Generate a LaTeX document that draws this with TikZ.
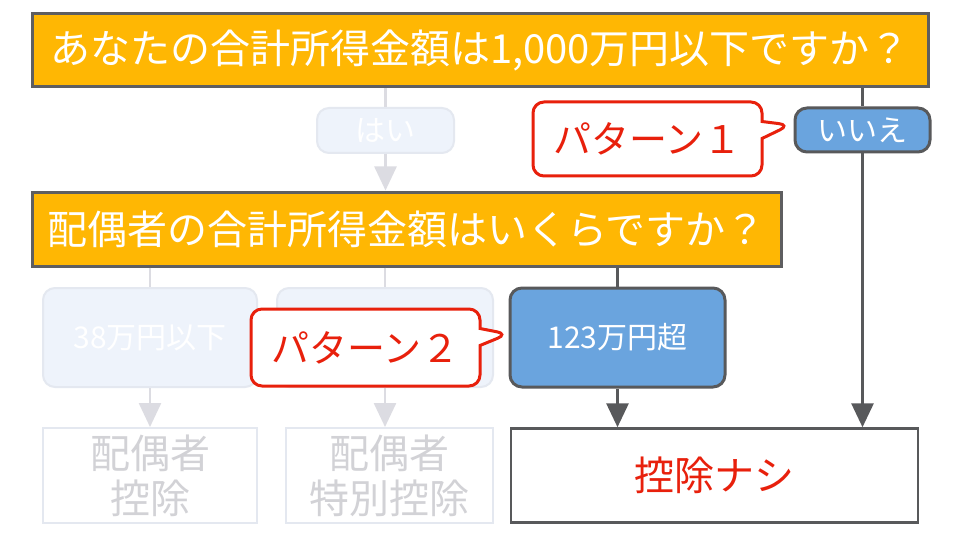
\documentclass[tikz,border=0pt]{standalone}
\usepackage{fontspec}
\setmainfont{Noto Sans CJK JP}
\usepackage{xcolor}
\usetikzlibrary{arrows.meta,shapes.callouts}

\definecolor{qfill}{HTML}{FFB703}
\definecolor{qline}{HTML}{5E5E60}
\definecolor{bluefill}{HTML}{6AA4DE}
\definecolor{darkline}{HTML}{58595B}
\definecolor{markred}{HTML}{E8200C}
\definecolor{fadefill}{HTML}{EEF3FB}
\definecolor{fadedraw}{HTML}{E4E8F0}
\definecolor{fadeline}{HTML}{DCDCE2}
\definecolor{fadetext}{HTML}{D2D2D6}

\begin{document}
\begin{tikzpicture}[x=1pt,y=-1pt,
question/.style={rectangle,draw=qline,line width=3pt,fill=qfill,text=white,inner sep=0pt,
  font=\fontsize{40}{46}\selectfont},
answer/.style={rectangle,rounded corners=12pt,draw=darkline,line width=3pt,fill=bluefill,text=white,
  inner sep=0pt,font=\fontsize{30}{36}\selectfont},
fadeanswer/.style={rectangle,rounded corners=12pt,draw=fadedraw,line width=2pt,fill=fadefill,text=white,
  inner sep=0pt,font=\fontsize{30}{36}\selectfont},
result/.style={rectangle,draw=darkline,line width=2.5pt,fill=white,text=markred,inner sep=0pt,
  font=\fontsize{40}{46}\selectfont},
faderesult/.style={rectangle,draw=fadedraw,line width=2pt,fill=white,text=fadetext,inner sep=0pt,
  align=center,font=\fontsize{40}{45}\selectfont},
link/.style={draw=darkline,line width=3pt},
fadelink/.style={draw=fadeline,line width=2.5pt},
tip/.style={-{Triangle[length=24pt,width=22pt]}},
pattern/.style={rectangle callout,rounded corners=11pt,draw=markred,line width=3pt,fill=white,
  text=markred,inner sep=0pt,callout pointer width=17pt,font=\fontsize{38}{44}\selectfont}]

\useasboundingbox (0,0) rectangle (960,540);
\fill[white] (0,0) rectangle (960,540);

% questions
\node (Q1) [question,minimum width=896pt,minimum height=73pt] at (480,50.5)
  {あなたの合計所得金額は1,000万円以下ですか？};
\node (Hai) [fadeanswer,minimum width=137pt,minimum height=45pt] at (385.5,130.5) {はい};
\node (Iie) [answer,minimum width=135pt,minimum height=44pt] at (862.5,130) {いいえ};
\node (Q2) [question,minimum width=749pt,minimum height=74pt] at (406.5,229)
  {配偶者の合計所得金額はいくらですか？};

% spouse income
\node (A1) [fadeanswer,minimum width=214pt,minimum height=99pt] at (150,337.5) {38万円以下};
\node (A2) [fadeanswer,minimum width=216pt,minimum height=99pt] at (385,337.5) {};
\node (A3) [answer,minimum width=215pt,minimum height=99pt] at (617.5,337.5) {123万円超};

% results
\node (R1) [faderesult,minimum width=214pt,minimum height=95pt] at (150,475.5) {配偶者\\控除};
\node (R2) [faderesult,minimum width=207pt,minimum height=95pt] at (389.5,475.5) {配偶者\\特別控除};
\node (R3) [result,minimum width=407pt,minimum height=94pt] at (714.5,475.5) {控除ナシ};

% connectors
\draw[fadelink] (Hai.north |- Q1.south) -- (Hai);
\draw[fadelink,tip] (Hai) -- (Hai |- Q2.north);
\draw[fadelink] (A1.north |- Q2.south) -- (A1);
\draw[fadelink] (A2.north |- Q2.south) -- (A2);
\draw[fadelink,tip] (A1) -- (A1 |- R1.north);
\draw[fadelink,tip] (A2) -- (A2 |- R2.north);
\draw[link] (Iie.north |- Q1.south) -- (Iie);
\draw[link,tip] (Iie) -- (Iie |- R3.north);
\draw[link] (A3.north |- Q2.south) -- (A3);
\draw[link,tip] (A3) -- (A3 |- R3.north);

% patterns
\node (P1) [pattern,minimum width=229pt,minimum height=74pt,callout absolute pointer={(790,125)}]
  at (647.5,139) {パターン１};
\node (P2) [pattern,minimum width=229pt,minimum height=77pt,callout absolute pointer={(508,334)}]
  at (365.5,347.5) {パターン２};
\end{tikzpicture}
\end{document}
